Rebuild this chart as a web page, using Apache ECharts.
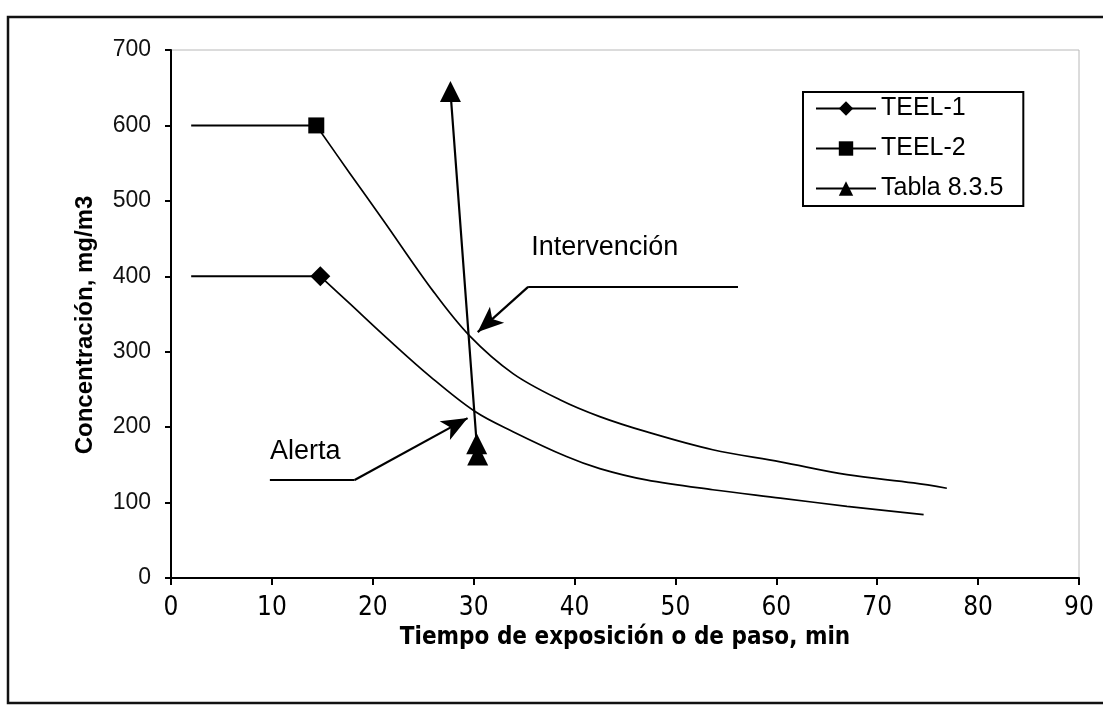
<!DOCTYPE html>
<html>
<head>
<meta charset="utf-8">
<script src="https://cdn.jsdelivr.net/npm/echarts@6/dist/echarts.min.js"></script>
<style>
html,body{margin:0;padding:0;background:#fff;}
#chart{width:1103px;height:706px;}
</style>
</head>
<body>
<div id="chart"></div>
<script>
// ---- data ----
var xTicks = [0, 10, 20, 30, 40, 50, 60, 70, 80, 90];
var yTicks = [0, 100, 200, 300, 400, 500, 600, 700];
var seriesNames = ['TEEL-1', 'TEEL-2', 'Tabla 8.3.5'];

var teel1X = [2, 14.8, 17.7, 21.4, 25.7, 30.1, 33.9, 39.2, 42.5, 47.1, 53.7, 60.4, 67.0, 74.6];
var teel1Y = [400, 400, 364, 318, 267, 221, 194, 161, 145, 130, 117, 106, 95, 84];
var teel1MarkerIndex = 1;

var teel2X = [2, 14.4, 17.7, 21.0, 26.0, 29.6, 33.9, 38.6, 42.5, 47.1, 53.7, 60.4, 67.0, 73.6, 76.9];
var teel2Y = [600, 600, 537, 475, 380, 321, 271, 236, 214, 194, 170, 154, 137, 126, 119];
var teel2MarkerIndex = 1;

var tablaX = [27.7, 30.3, 30.4];
var tablaY = [645, 178, 163];

// callouts (data coordinates)
var intervencionLabel = {text: 'Intervención', x: 43.0, y: 438};
var intervencionPath = [[56.2, 386], [35.4, 386], [30.4, 326]];
var alertaLabel = {text: 'Alerta', x: 13.3, y: 167};
var alertaPath = [[9.8, 130], [18.2, 130], [29.4, 212]];

function pts(xs, ys, from, to) {
  var out = [];
  for (var i = from; i < to; i++) out.push([xs[i], ys[i]]);
  return out;
}
function curveData(xs, ys, markerIdx) {
  return pts(xs, ys, markerIdx, xs.length).map(function (p, i) {
    return i === 0 ? {value: p} : {value: p, symbol: 'none'};
  });
}
function pathSegments(path) {
  var segs = [];
  for (var i = 0; i < path.length - 1; i++) {
    var last = i === path.length - 2;
    segs.push([
      {coord: path[i], symbol: 'none'},
      {coord: path[i + 1], symbol: last ? 'arrow' : 'none', symbolSize: last ? [16, 26] : 0}
    ]);
  }
  return segs;
}

var chart = echarts.init(document.getElementById('chart'), null, {renderer: 'canvas'});
var black = '#000';
var arial = "Arial, 'Liberation Sans', sans-serif";
var narrow = "'Liberation Sans Narrow', 'DejaVu Sans Condensed', 'Arial Narrow', Arial, sans-serif";

function plateau(name, xs, ys, idx) {
  return {
    name: name + ' plateau', type: 'line', symbol: 'none', silent: true,
    lineStyle: {color: black, width: 2}, z: 1,
    data: pts(xs, ys, 0, idx + 1)
  };
}

chart.setOption({
  animation: false,
  backgroundColor: '#fff',
  graphic: [{
    type: 'rect', silent: true, z: -1,
    shape: {x: 8, y: 17, width: 1200, height: 686},
    style: {fill: 'none', stroke: '#111', lineWidth: 2.5}
  }],
  grid: {
    left: 171, right: 24, top: 50, bottom: 128,
    show: true, borderColor: '#b8b8b8', borderWidth: 1, backgroundColor: 'transparent'
  },
  legend: {
    data: seriesNames,
    orient: 'vertical',
    left: 803, top: 92,
    padding: [4, 20, 5, 12],
    itemWidth: 60, itemHeight: 18, itemGap: 15,
    borderColor: black, borderWidth: 2,
    textStyle: {fontFamily: arial, fontSize: 25, color: black}
  },
  xAxis: {
    type: 'value', min: 0, max: 90, interval: 10,
    name: 'Tiempo de exposición o de paso, min',
    nameLocation: 'middle', nameGap: 41,
    nameTextStyle: {fontFamily: narrow, fontWeight: 'bold', fontSize: 24, color: black},
    axisLine: {show: true, onZero: false, lineStyle: {color: black, width: 2}},
    axisTick: {show: true, length: 7, lineStyle: {color: black, width: 2}},
    axisLabel: {
      margin: 17, fontFamily: narrow, fontSize: 26, color: black,
      formatter: function (v) { return xTicks.indexOf(v) >= 0 ? String(v) : ''; }
    },
    splitLine: {show: false}
  },
  yAxis: {
    type: 'value', min: 0, max: 700, interval: 100,
    name: 'Concentración, mg/m3',
    nameLocation: 'middle', nameGap: 74,
    nameTextStyle: {fontFamily: arial, fontWeight: 'bold', fontSize: 24, color: black, padding: [0, 22, 0, 0]},
    axisLine: {show: true, lineStyle: {color: black, width: 2}},
    axisTick: {show: true, length: 6, lineStyle: {color: black, width: 2}},
    axisLabel: {
      margin: 20, fontFamily: arial, fontSize: 23, color: '#111',
      formatter: function (v) { return yTicks.indexOf(v) >= 0 ? String(v) : ''; }
    },
    splitLine: {show: false}
  },
  series: [
    plateau(seriesNames[0], teel1X, teel1Y, teel1MarkerIndex),
    plateau(seriesNames[1], teel2X, teel2Y, teel2MarkerIndex),
    {
      name: seriesNames[0], type: 'line', smooth: 0.35,
      symbol: 'diamond', symbolSize: 20, showAllSymbol: true, z: 3,
      itemStyle: {color: black},
      lineStyle: {color: black, width: 1.7},
      data: curveData(teel1X, teel1Y, teel1MarkerIndex)
    },
    {
      name: seriesNames[1], type: 'line', smooth: 0.35,
      symbol: 'rect', symbolSize: 16, showAllSymbol: true, z: 3,
      itemStyle: {color: black},
      lineStyle: {color: black, width: 1.7},
      data: curveData(teel2X, teel2Y, teel2MarkerIndex)
    },
    {
      name: seriesNames[2], type: 'line',
      symbol: 'triangle', symbolSize: 21, showAllSymbol: true, z: 3,
      itemStyle: {color: black},
      lineStyle: {color: black, width: 2.2},
      data: pts(tablaX, tablaY, 0, tablaX.length)
    },
    {
      name: 'callouts', type: 'line', data: [],
      markLine: {
        silent: true, animation: false,
        lineStyle: {color: black, width: 2.2, type: 'solid'},
        label: {show: false},
        emphasis: {disabled: true},
        data: pathSegments(intervencionPath).concat(pathSegments(alertaPath))
      },
      markPoint: {
        silent: true,
        symbol: 'rect', symbolSize: 1,
        itemStyle: {color: 'rgba(0,0,0,0)'},
        label: {
          show: true, position: 'inside', color: black,
          fontFamily: arial, fontSize: 27,
          formatter: function (p) { return p.name; }
        },
        data: [
          {name: intervencionLabel.text, coord: [intervencionLabel.x, intervencionLabel.y]},
          {name: alertaLabel.text, coord: [alertaLabel.x, alertaLabel.y]}
        ]
      }
    }
  ]
});
</script>
</body>
</html>
